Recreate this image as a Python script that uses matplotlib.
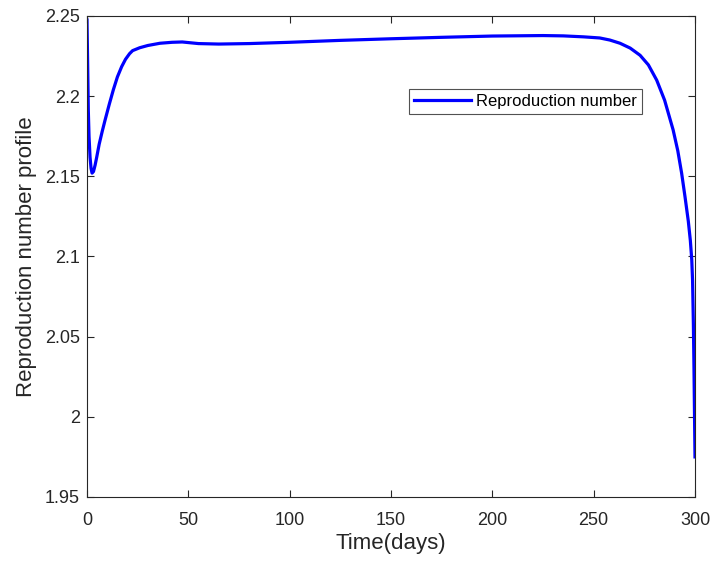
import matplotlib
matplotlib.use("Agg")
import matplotlib.pyplot as plt

t_days = [0, 0.3, 0.65, 1.0, 1.5, 2.0, 2.5, 3.2, 4.0, 4.8, 6, 7.5, 8.9, 11, 13, 15, 17.1, 19, 21, 22.5,
          26, 30, 36, 42, 47, 55, 65, 80, 100, 125, 150, 175, 200, 225, 235, 245, 253, 258, 263, 268,
          272.9, 277, 281.1, 285, 289.2, 291.5, 293.4, 295.1, 296.7, 297.7, 298.4, 298.8, 299.2,
          299.5, 299.7, 300]
r_values = [2.2475, 2.222, 2.191, 2.175, 2.162, 2.155, 2.152, 2.153, 2.157, 2.162, 2.170, 2.178, 2.185,
            2.195, 2.204, 2.212, 2.2184, 2.223, 2.2265, 2.2284, 2.2302, 2.2316, 2.233, 2.2336, 2.2338,
            2.2328, 2.2325, 2.2328, 2.2336, 2.2348, 2.2358, 2.2367, 2.2375, 2.2378, 2.2376, 2.237,
            2.2363, 2.235, 2.233, 2.230, 2.2255, 2.2195, 2.210, 2.1975, 2.179, 2.166, 2.152, 2.137,
            2.122, 2.110, 2.098, 2.085, 2.058, 2.030, 2.008, 1.975]

x_ticks = [0, 50, 100, 150, 200, 250, 300]
y_ticks = [1.95, 2.0, 2.05, 2.1, 2.15, 2.2, 2.25]
y_tick_labels = ["1.95", "2", "2.05", "2.1", "2.15", "2.2", "2.25"]

plt.rcParams['font.family'] = ['Liberation Sans', 'DejaVu Sans']
fig = plt.figure(figsize=(7.12, 5.63), dpi=100)
ax = fig.add_axes([87/712, 1 - 497/563, (695 - 87)/712, (497 - 16)/563])

ax.plot(t_days, r_values, color='#0000ff', lw=2.3, label='Reproduction number')
ax.set_xlim(0, 300)
ax.set_ylim(1.95, 2.25)
ax.set_xticks(x_ticks)
ax.set_yticks(y_ticks)
ax.set_yticklabels(y_tick_labels)
ax.tick_params(direction='in', top=True, right=True, length=5, width=0.8,
               colors='#262626', labelsize=13)
ax.tick_params(axis='x', pad=11)
ax.tick_params(axis='y', pad=5)
for s in ax.spines.values():
    s.set_color('#262626')
    s.set_linewidth(0.8)
ax.set_xlabel('Time(days)', fontsize=16, color='#262626', labelpad=3)
ax.set_ylabel('Reproduction number profile', fontsize=16, color='#262626', labelpad=6)

leg = ax.legend(loc='upper left', bbox_to_anchor=((409 - 87)/608, 1 - (89 - 16)/481),
                fontsize=12, frameon=True, fancybox=False, borderaxespad=0,
                handlelength=3.4, borderpad=0.3, handletextpad=0.3)
leg.get_frame().set_edgecolor('#262626')
leg.get_frame().set_linewidth(0.8)

fig.savefig('out.png', dpi=100)
